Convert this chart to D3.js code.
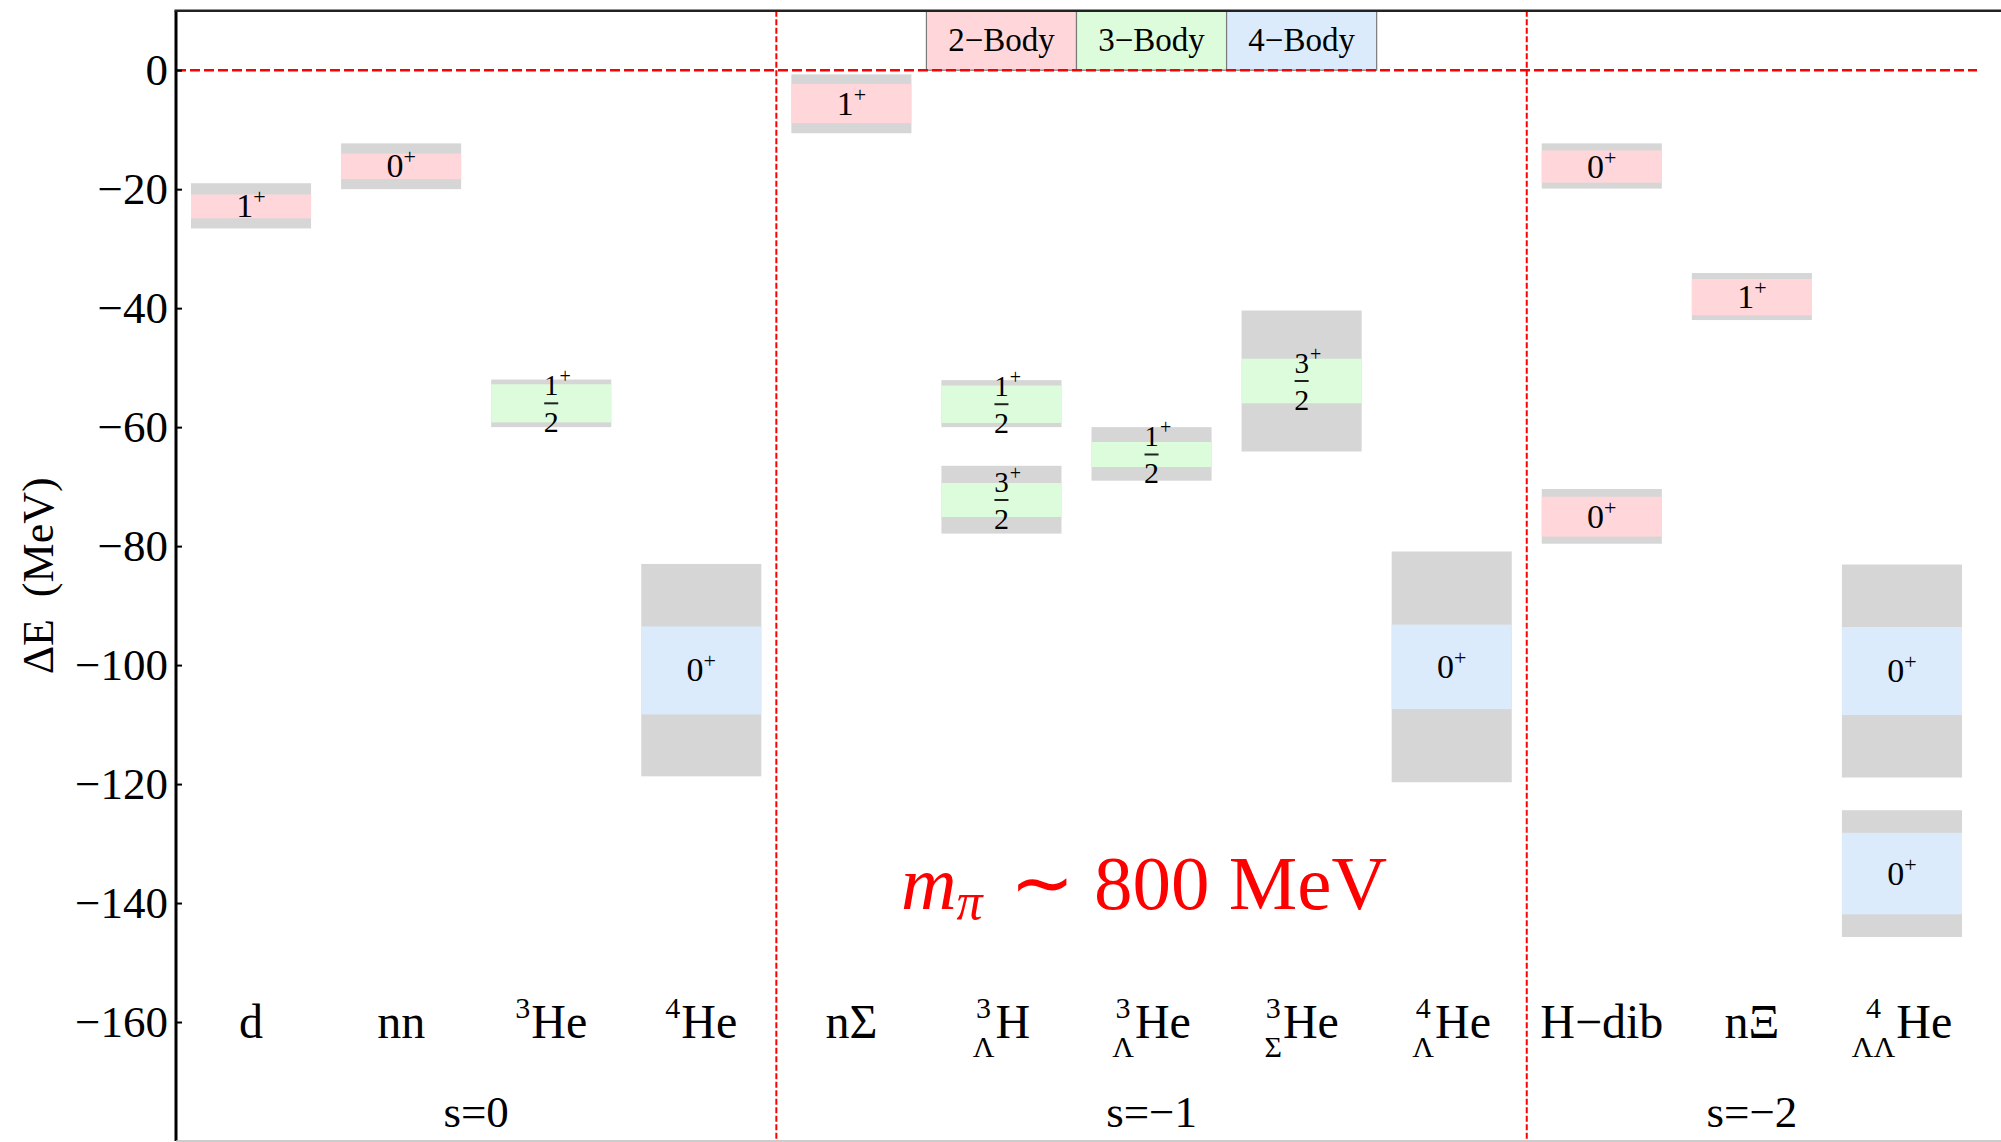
<!DOCTYPE html>
<html>
<head>
<meta charset="utf-8">
<script src="https://cdn.jsdelivr.net/npm/d3@7/dist/d3.min.js"></script>
<style>
  body { margin: 0; background: #fff; }
</style>
</head>
<body>
<div id="chart"></div>
<script>
// category labels: prescript sup / sub + main symbol
const labelMain = ["d", "nn", "He", "He", "nΣ", "H", "He", "He", "He", "H−dib", "nΞ", "He"];
const labelSup  = ["", "", "3", "4", "", "3", "3", "3", "4", "", "", "4"];
const labelSub  = ["", "", "", "", "", "Λ", "Λ", "Σ", "Λ", "", "", "ΛΛ"];

const sectorNames = ["s=0", "s=−1", "s=−2"];
const sectorCenters = [2.5, 7, 11];
const sectorDividers = [4.5, 9.5];

// one entry per state (box)
const stateCategory = [1, 2, 3, 4, 5, 6, 6, 7, 8, 9, 10, 10, 11, 12, 12];
const stateBody     = [2, 2, 3, 4, 2, 3, 3, 3, 3, 4, 2, 2, 2, 4, 4];
const stateSpin     = ["1", "0", "1/2", "0", "1", "1/2", "3/2", "1/2", "3/2", "0", "0", "0", "1", "0", "0"];
// total uncertainty band (grey)
const outerTop    = [-19.0, -12.3, -52.0, -83.0, -0.7, -52.1, -66.5, -60.0, -40.4, -80.9, -12.3, -70.4, -34.1, -83.1, -124.4];
const outerBottom = [-26.6, -20.0, -60.0, -118.7, -10.6, -60.0, -77.9, -69.0, -64.1, -119.7, -19.9, -79.6, -42.0, -118.9, -145.7];
// statistical band (coloured)
const innerTop    = [-20.9, -14.0, -52.8, -93.5, -2.3, -53.0, -69.4, -62.5, -48.5, -93.2, -13.5, -71.7, -35.1, -93.6, -128.2];
const innerBottom = [-24.9, -18.3, -59.2, -108.3, -8.9, -59.3, -75.1, -66.7, -56.0, -107.4, -18.9, -78.4, -41.2, -108.4, -141.9];

const legendLabels = ["2−Body", "3−Body", "4−Body"];
const legendBodies = [2, 3, 4];
const legendLeft = [5.5, 6.5, 7.5];

const yTicks = [-160, -140, -120, -100, -80, -60, -40, -20, 0];

const bodyColor = { 2: "#ffd7da", 3: "#dcfcdc", 4: "#dbebfb" };
const greyBand = "#d6d6d6";
const serif = "'Liberation Serif', 'Times New Roman', serif";

const W = 2001, H = 1142;
const x = d3.scaleLinear().domain([0.5, 12.5]).range([176, 1977]);
const y = d3.scaleLinear().domain([-180, 10]).range([1141, 10.7]);
const halfW = 0.4;

const svg = d3.select("#chart").append("svg")
  .attr("width", W)
  .attr("height", H)
  .style("font-family", serif);

// boxes
const boxes = svg.append("g");
stateCategory.forEach((c, i) => {
  boxes.append("rect")
    .attr("x", x(c - halfW))
    .attr("width", x(c + halfW) - x(c - halfW))
    .attr("y", y(outerTop[i]))
    .attr("height", y(outerBottom[i]) - y(outerTop[i]))
    .attr("fill", greyBand);
  boxes.append("rect")
    .attr("x", x(c - halfW))
    .attr("width", x(c + halfW) - x(c - halfW))
    .attr("y", y(innerTop[i]))
    .attr("height", y(innerBottom[i]) - y(innerTop[i]))
    .attr("fill", bodyColor[stateBody[i]]);
});

// spin-parity labels
stateCategory.forEach((c, i) => {
  const cx = x(c);
  const cy = y((innerTop[i] + innerBottom[i]) / 2);
  const spin = stateSpin[i];
  if (spin.includes("/")) {
    const [num, den] = spin.split("/");
    boxes.append("text")
      .attr("x", cx).attr("y", cy - 8)
      .attr("text-anchor", "middle")
      .attr("font-size", 29)
      .text(num);
    boxes.append("text")
      .attr("x", cx + 14).attr("y", cy - 20)
      .attr("text-anchor", "middle")
      .attr("font-size", 20)
      .text("+");
    boxes.append("line")
      .attr("x1", cx - 7).attr("x2", cx + 7)
      .attr("y1", cy).attr("y2", cy)
      .attr("stroke", "#222")
      .attr("stroke-width", 2);
    boxes.append("text")
      .attr("x", cx).attr("y", cy + 29)
      .attr("text-anchor", "middle")
      .attr("font-size", 30)
      .text(den);
  } else {
    const t = boxes.append("text")
      .attr("x", cx).attr("y", cy + 11)
      .attr("text-anchor", "middle")
      .attr("font-size", 34);
    t.append("tspan").text(spin);
    t.append("tspan").attr("font-size", 22).attr("dy", -13).text("+");
  }
});

// legend in the top strip
const legend = svg.append("g");
legendLabels.forEach((lab, i) => {
  legend.append("rect")
    .attr("x", x(legendLeft[i]))
    .attr("y", y(10))
    .attr("width", x(legendLeft[i] + 1) - x(legendLeft[i]))
    .attr("height", y(0) - y(10))
    .attr("fill", bodyColor[legendBodies[i]])
    .attr("stroke", "#7a7a7a")
    .attr("stroke-width", 1.2);
  legend.append("text")
    .attr("x", x(legendLeft[i] + 0.5))
    .attr("y", y(5) + 11)
    .attr("text-anchor", "middle")
    .attr("font-size", 33)
    .text(lab);
});

// red dashed reference lines
svg.append("line")
  .attr("x1", x(0.5)).attr("x2", x(12.5))
  .attr("y1", y(0)).attr("y2", y(0))
  .attr("stroke", "#ff0000")
  .attr("stroke-width", 2.5)
  .attr("stroke-dasharray", "10,4");
sectorDividers.forEach(d => {
  svg.append("line")
    .attr("x1", x(d)).attr("x2", x(d))
    .attr("y1", y(10)).attr("y2", y(-180))
    .attr("stroke", "#ff0000")
    .attr("stroke-width", 2)
    .attr("stroke-dasharray", "6,2.5");
});

// category labels with prescripts
const baseY = y(-160) + 16;
labelMain.forEach((name, i) => {
  const g = svg.append("g");
  let offset = 0;
  if (labelSup[i] || labelSub[i]) {
    const sup = g.append("text").attr("font-size", 30).attr("y", -20).text(labelSup[i]);
    const sub = g.append("text").attr("font-size", 30).attr("y", 19).text(labelSub[i]);
    const w = Math.max(sup.node().getComputedTextLength(), sub.node().getComputedTextLength());
    sup.attr("x", w / 2).attr("text-anchor", "middle");
    sub.attr("x", w / 2).attr("text-anchor", "middle");
    offset = w + 1;
  }
  const main = g.append("text").attr("x", offset).attr("font-size", 48).text(name);
  const total = offset + main.node().getComputedTextLength();
  g.attr("transform", `translate(${x(i + 1) - total / 2},${baseY})`);
});

sectorNames.forEach((s, i) => {
  svg.append("text")
    .attr("x", x(sectorCenters[i]))
    .attr("y", y(-180) - 14)
    .attr("text-anchor", "middle")
    .attr("font-size", 45)
    .text(s);
});

// pion mass annotation
const mpi = svg.append("text")
  .attr("x", x(6.95))
  .attr("y", y(-141))
  .attr("text-anchor", "middle")
  .attr("font-size", 77)
  .attr("fill", "#ff0000");
mpi.append("tspan").attr("font-style", "italic").text("m");
mpi.append("tspan").attr("font-style", "italic").attr("font-size", 52).attr("dy", 10).text("π");
mpi.append("tspan").attr("dy", -10).attr("dx", 8).text(" ∼ 800 MeV");

// frame and y axis
const yAxis = d3.axisLeft(y)
  .tickValues(yTicks)
  .tickSizeInner(-6)
  .tickSizeOuter(0)
  .tickPadding(8);
const axisG = svg.append("g")
  .attr("transform", `translate(${x(0.5)},0)`)
  .call(yAxis);
axisG.select(".domain").remove();
axisG.selectAll(".tick line").attr("stroke", "#000").attr("stroke-width", 2);
axisG.selectAll(".tick text")
  .attr("font-family", serif)
  .attr("font-size", 45)
  .attr("fill", "#000");

svg.append("line")
  .attr("x1", x(0.5)).attr("x2", x(0.5))
  .attr("y1", y(10)).attr("y2", y(-180))
  .attr("stroke", "#000").attr("stroke-width", 3);
svg.append("line")
  .attr("x1", x(0.5) - 1.5).attr("x2", W)
  .attr("y1", y(10)).attr("y2", y(10))
  .attr("stroke", "#222").attr("stroke-width", 2.5);
svg.append("line")
  .attr("x1", x(0.5)).attr("x2", W)
  .attr("y1", y(-180)).attr("y2", y(-180))
  .attr("stroke", "#bbb").attr("stroke-width", 1.5);

svg.append("text")
  .attr("transform", `translate(38,${y(-85)}) rotate(-90)`)
  .attr("text-anchor", "middle")
  .attr("dominant-baseline", "central")
  .attr("font-size", 44)
  .style("white-space", "pre")
  .text("ΔE  (MeV)");
</script>
</body>
</html>
